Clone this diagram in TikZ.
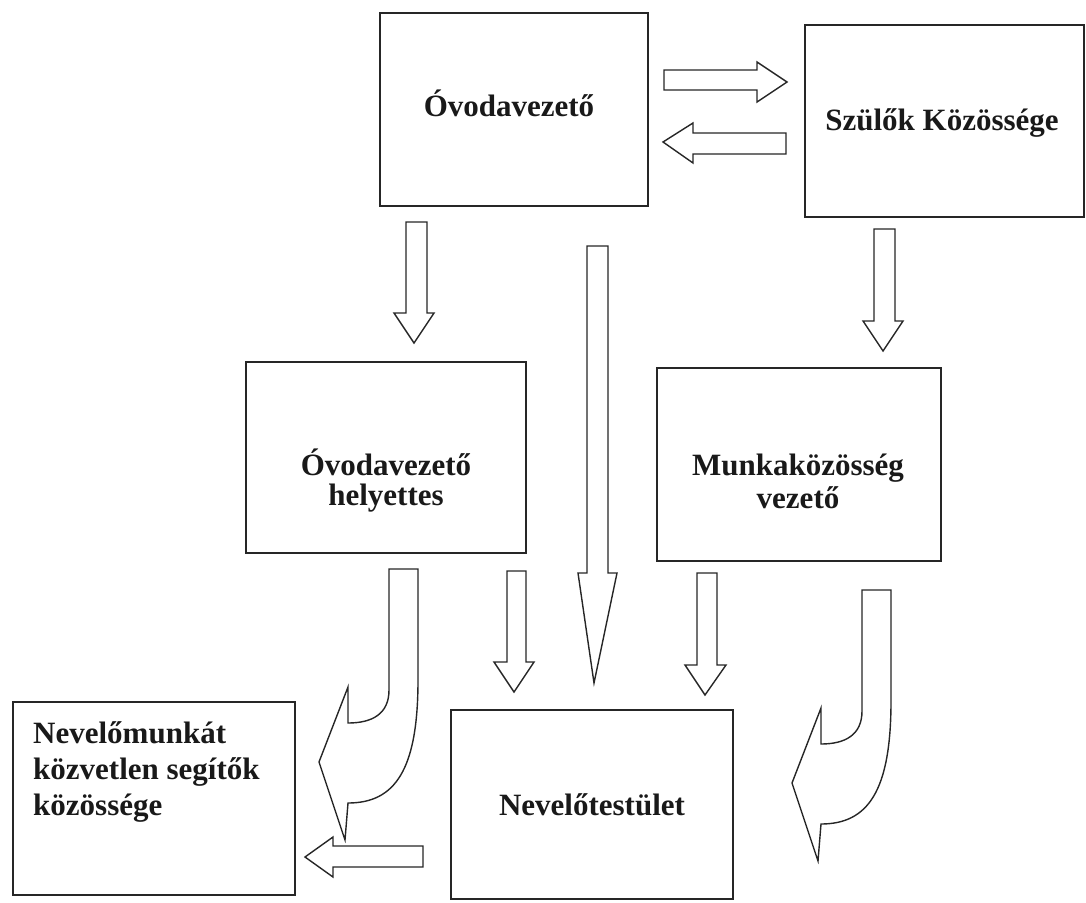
\documentclass[tikz,border=0pt]{standalone}
\usepackage{fontspec}
\setmainfont{Liberation Serif}
\begin{document}
\begin{tikzpicture}[x=1pt,y=-1pt,
  box/.style={draw=black!85, line width=1.5pt, rectangle, inner sep=0pt},
  txt/.style={inner sep=0pt, text=black!90, font=\bfseries\fontsize{31}{#1}\selectfont},
  txt/.default=31,
  blockarrow/.style={draw=black!85, line width=1.4pt, line join=miter, fill=white}]
\useasboundingbox (0,0) rectangle (1086,902);

% boxes
\node[box, minimum width=268pt, minimum height=193pt] (ovez)  at (514,109.5) {};
\node[box, minimum width=279pt, minimum height=192pt] (szul)  at (944.5,121) {};
\node[box, minimum width=280pt, minimum height=191pt] (helyt) at (386,457.5) {};
\node[box, minimum width=284pt, minimum height=193pt] (munka) at (799,464.5) {};
\node[box, minimum width=282pt, minimum height=193pt] (nevm)  at (154,798.5) {};
\node[box, minimum width=282pt, minimum height=189pt] (nevt)  at (592,804.5) {};

% texts (base anchor = baseline of the last line)
\node[txt, anchor=base] (ovezT) at (509,116) {Óvodavezető};
\node[txt, anchor=base] (szulT) at (942,130) {Szülők Közössége};
\node[txt=30, align=center, anchor=base] (helytT) at (386,505) {Óvodavezető\\helyettes};
\node[txt=33, align=center, anchor=base] (munkaT) at (798,508) {Munkaközösség\\vezető};
\node[txt=36, align=left, anchor=base west] (nevmT) at (33,815) {Nevelőmunkát\\közvetlen segítők\\közössége};
\node[txt, anchor=base] (nevtT) at (592,815) {Nevelőtestület};

% straight block arrows
\draw[blockarrow] (664,70) -- (757,70) -- (757,62) -- (787,82) -- (757,102) -- (757,90) -- (664,90) -- cycle;
\draw[blockarrow] (786,133) -- (693,133) -- (693,123) -- (663,142) -- (693,163) -- (693,154) -- (786,154) -- cycle;
\draw[blockarrow] (406,222) -- (427,222) -- (427,313) -- (434,313) -- (414,343) -- (394,313) -- (406,313) -- cycle;
\draw[blockarrow] (587,246) -- (608,246) -- (608,573) -- (617,573) -- (594,683) -- (578,573) -- (587,573) -- cycle;
\draw[blockarrow] (874,229) -- (895,229) -- (895,321) -- (903,321) -- (883,351) -- (863,321) -- (874,321) -- cycle;
\draw[blockarrow] (507,571) -- (526,571) -- (526,662) -- (534,662) -- (514,692) -- (494,662) -- (507,662) -- cycle;
\draw[blockarrow] (697,573) -- (717,573) -- (717,665) -- (726,665) -- (705,695) -- (685,665) -- (697,665) -- cycle;
\draw[blockarrow] (423,846) -- (333,846) -- (333,837) -- (305,857) -- (333,877) -- (333,867) -- (423,867) -- cycle;

% curved block arrows
\foreach \dx/\dy in {0/0, 473/21}{
  \begin{scope}[shift={(\dx,\dy)}]
  \draw[blockarrow] (389,569) -- (418,569) -- (418,680)
     .. controls (418,770) and (395,803) .. (348,803)
     -- (345,840) -- (319,762) -- (348,687) -- (348,723)
     .. controls (372,723) and (389,714) .. (389,690) -- cycle;
  \end{scope}
}
\end{tikzpicture}
\end{document}
